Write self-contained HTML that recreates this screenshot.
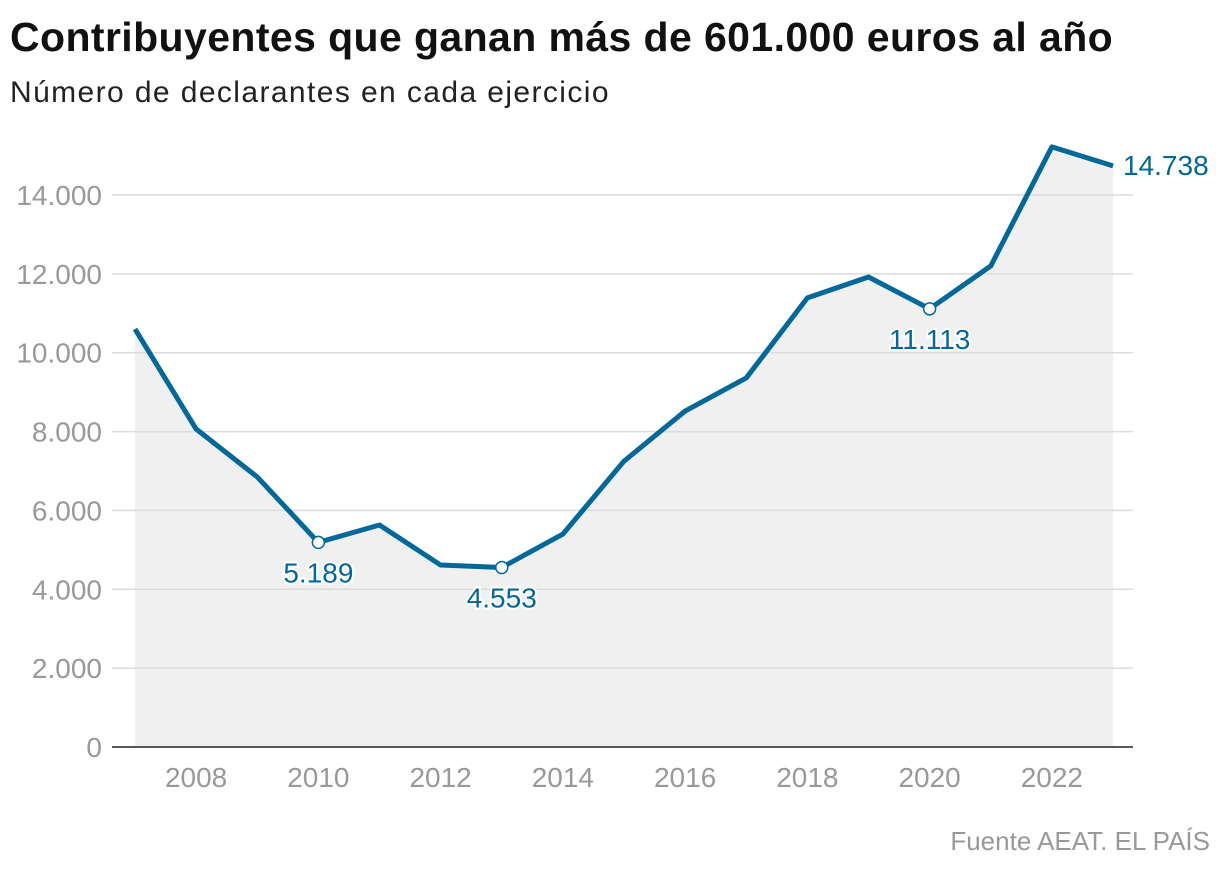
<!DOCTYPE html>
<html><head><meta charset="utf-8"><style>
body{margin:0;background:#fff;width:1220px;height:874px;overflow:hidden;font-family:"Liberation Sans",sans-serif}
#title{position:absolute;left:10px;top:14px;font-size:41px;font-weight:bold;color:#111;letter-spacing:0.4px;white-space:nowrap}
#sub{position:absolute;left:10px;top:76px;font-size:30px;color:#222;letter-spacing:1.4px;white-space:nowrap}
#src{position:absolute;right:10px;top:826px;font-size:26px;color:#999;white-space:nowrap}
svg{position:absolute;left:0;top:0}
</style></head><body>
<div id="title">Contribuyentes que ganan más de 601.000 euros al año</div>
<div id="sub">Número de declarantes en cada ejercicio</div>
<div id="src">Fuente AEAT. EL PAÍS</div>
<svg id="chart" width="1220" height="874"></svg>
<script>
const years=[2007,2008,2009,2010,2011,2012,2013,2014,2015,2016,2017,2018,2019,2020,2021,2022,2023];
const values=[10600,8065,6850,5189,5630,4615,4553,5400,7250,8520,9360,11390,11920,11113,12200,15220,14738];
const yTicks=[0,2000,4000,6000,8000,10000,12000,14000];
const xTicks=[2008,2010,2012,2014,2016,2018,2020,2022];
const labeled=[2010,2013,2020];
const NS="http://www.w3.org/2000/svg";
const svg=document.getElementById('chart');
const x=y=>135+(y-2007)*61.125;
const yS=v=>747-v*(552/14000);
const fmt=v=>v.toLocaleString('de-DE');
function mk(t,a,p){const e=document.createElementNS(NS,t);for(const k in a)e.setAttribute(k,a[k]);(p||svg).appendChild(e);return e;}
let area='M'+x(years[0])+','+yS(0);
years.forEach((yr,i)=>area+='L'+x(yr)+','+yS(values[i]));
area+='L'+x(years[years.length-1])+','+yS(0)+'Z';
const ar=mk('path',{d:area,fill:'#f0f0f0'});


yTicks.forEach(v=>{
 if(v>0){const g=mk('line',{x1:112,x2:1133,y1:yS(v),y2:yS(v),stroke:'#dcdcdc','stroke-width':1.5});
 
 }
 const t=mk('text',{x:102,y:yS(v)+10,'text-anchor':'end','font-size':28,fill:'#999','font-family':'Liberation Sans'});
 t.textContent=fmt(v);
 
 
});
const ax=mk('line',{x1:112,x2:1133,y1:yS(0),y2:yS(0),stroke:'#222','stroke-width':1.5});


xTicks.forEach(yr=>{
 const t=mk('text',{x:x(yr),y:787,'text-anchor':'middle','font-size':28,fill:'#999','font-family':'Liberation Sans'});
 t.textContent=yr;
 
 
});
const ln=mk('polyline',{points:years.map((yr,i)=>x(yr)+','+yS(values[i])).join(' '),fill:'none',stroke:'#00689a','stroke-width':5,'stroke-linejoin':'round'});


labeled.forEach(yr=>{
 const i=years.indexOf(yr);
 const c=mk('circle',{cx:x(yr),cy:yS(values[i]),r:6,fill:'#fff',stroke:'#00689a','stroke-width':1.5});
 
 
 const t=mk('text',{x:x(yr),y:yS(values[i])+40,'text-anchor':'middle','font-size':28,fill:'#00689a',stroke:'#fff','stroke-width':4,'paint-order':'stroke','font-family':'Liberation Sans'});
 t.textContent=fmt(values[i]);
 
 
});
const li=values.length-1;
const lt=mk('text',{x:x(years[li])+10,y:yS(values[li])+9,'font-size':28,fill:'#00689a','font-family':'Liberation Sans'});
lt.textContent=fmt(values[li]);


</script>
</body></html>
